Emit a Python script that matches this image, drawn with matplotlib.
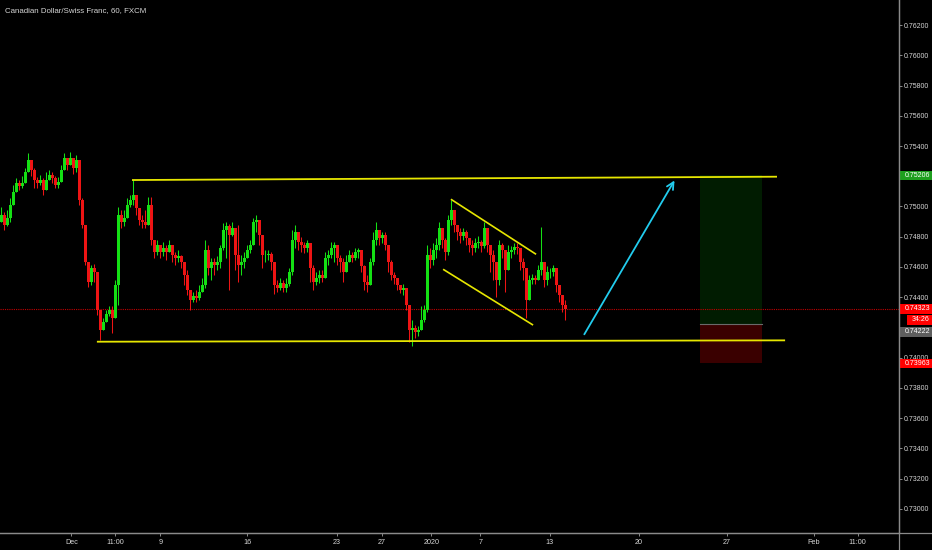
import matplotlib
matplotlib.use('Agg')
import numpy as np
from matplotlib import pyplot as plt
from matplotlib.patches import Rectangle
from matplotlib.lines import Line2D
from matplotlib.transforms import blended_transform_factory

plt.rcParams['font.family'] = ['Liberation Sans', 'DejaVu Sans']

TITLE = 'Canadian Dollar/Swiss Franc, 60, FXCM'

# hourly bars (compressed)
closes = [
    0.74944, 0.74877, 0.74924, 0.75010, 0.75096, 0.75155, 0.75135, 0.75155, 0.75228, 0.75307,
    0.75241, 0.75175, 0.75155, 0.75175, 0.75109, 0.75175, 0.75208, 0.75188, 0.75142, 0.75162,
    0.75241, 0.75320, 0.75274, 0.75320, 0.75254, 0.75307, 0.75043, 0.74877, 0.74633, 0.74501,
    0.74593, 0.74567, 0.74315, 0.74183, 0.74236, 0.74289, 0.74315, 0.74263, 0.74481, 0.74944,
    0.74897, 0.74924, 0.75010, 0.75043, 0.75076, 0.74990, 0.74910, 0.74897, 0.74877, 0.75010,
    0.74778, 0.74699, 0.74745, 0.74699, 0.74725, 0.74699, 0.74745, 0.74679, 0.74659, 0.74672,
    0.74633, 0.74547, 0.74448, 0.74382, 0.74408, 0.74395, 0.74434, 0.74481, 0.74712, 0.74593,
    0.74633, 0.74613, 0.74633, 0.74725, 0.74844, 0.74871, 0.74811, 0.74858, 0.74679, 0.74613,
    0.74633, 0.74659, 0.74712, 0.74745, 0.74897, 0.74910, 0.74811, 0.74679, 0.74679, 0.74686,
    0.74633, 0.74481, 0.74461, 0.74494, 0.74461, 0.74487, 0.74567, 0.74778, 0.74831, 0.74765,
    0.74745, 0.74725, 0.74758, 0.74593, 0.74501, 0.74527, 0.74547, 0.74527, 0.74659, 0.74679,
    0.74725, 0.74745, 0.74659, 0.74633, 0.74567, 0.74633, 0.74679, 0.74659, 0.74699, 0.74712,
    0.74606, 0.74501, 0.74481, 0.74633, 0.74778, 0.74844, 0.74791, 0.74811, 0.74745, 0.74633,
    0.74547, 0.74527, 0.74481, 0.74448, 0.74461, 0.74348, 0.74183, 0.74196, 0.74170, 0.74183,
    0.74249, 0.74315, 0.74679, 0.74646, 0.74712, 0.74745, 0.74858, 0.74778, 0.74699, 0.74910,
    0.74977, 0.74877, 0.74831, 0.74805, 0.74831, 0.74791, 0.74745, 0.74725, 0.74758, 0.74765,
    0.74739, 0.74858, 0.74745, 0.74679, 0.74633, 0.74514, 0.74745, 0.74712, 0.74580, 0.74699,
    0.74712, 0.74732, 0.74725, 0.74633, 0.74593, 0.74382, 0.74514, 0.74527, 0.74514, 0.74580,
    0.74633, 0.74514, 0.74567, 0.74567, 0.74593, 0.74481, 0.74415, 0.74348, 0.74323,
]
highs = [
    0.74996, 0.74963, 0.74977, 0.75056, 0.75142, 0.75188, 0.75175, 0.75201, 0.75254, 0.75353,
    0.75307, 0.75254, 0.75195, 0.75208, 0.75188, 0.75228, 0.75241, 0.75228, 0.75201, 0.75195,
    0.75274, 0.75353, 0.75307, 0.75360, 0.75307, 0.75340, 0.75254, 0.75056, 0.74877, 0.74633,
    0.74613, 0.74620, 0.74567, 0.74302, 0.74263, 0.74315, 0.74342, 0.74342, 0.74514, 0.74996,
    0.74977, 0.74977, 0.75056, 0.75076, 0.75175, 0.75056, 0.74963, 0.74944, 0.74977, 0.75063,
    0.75063, 0.74765, 0.74778, 0.74745, 0.74765, 0.74745, 0.74778, 0.74732, 0.74699, 0.74712,
    0.74679, 0.74633, 0.74580, 0.74448, 0.74434, 0.74448, 0.74481, 0.74527, 0.74778, 0.74745,
    0.74659, 0.74659, 0.74672, 0.74745, 0.74891, 0.74897, 0.74884, 0.74897, 0.74811, 0.74877,
    0.74679, 0.74699, 0.74745, 0.74778, 0.74924, 0.74944, 0.74877, 0.74778, 0.74712, 0.74712,
    0.74699, 0.74593, 0.74514, 0.74527, 0.74514, 0.74527, 0.74593, 0.74844, 0.74877, 0.74811,
    0.74798, 0.74765, 0.74778, 0.74725, 0.74613, 0.74567, 0.74580, 0.74580, 0.74699, 0.74712,
    0.74765, 0.74765, 0.74712, 0.74679, 0.74659, 0.74679, 0.74712, 0.74699, 0.74725, 0.74725,
    0.74699, 0.74613, 0.74547, 0.74659, 0.74831, 0.74897, 0.74844, 0.74831, 0.74831, 0.74712,
    0.74646, 0.74567, 0.74527, 0.74481, 0.74487, 0.74448, 0.74348, 0.74249, 0.74216, 0.74210,
    0.74342, 0.74348, 0.74745, 0.74725, 0.74758, 0.74791, 0.74897, 0.74844, 0.74791, 0.74944,
    0.75043, 0.74963, 0.74877, 0.74858, 0.74858, 0.74844, 0.74791, 0.74778, 0.74791, 0.74805,
    0.74778, 0.74897, 0.74831, 0.74745, 0.74712, 0.74633, 0.74778, 0.74758, 0.74679, 0.74745,
    0.74739, 0.74758, 0.74758, 0.74679, 0.74659, 0.74514, 0.74547, 0.74553, 0.74547, 0.74613,
    0.74864, 0.74633, 0.74606, 0.74593, 0.74613, 0.74580, 0.74481, 0.74395, 0.74382,
]
lows = [
    0.74897, 0.74844, 0.74871, 0.74897, 0.75043, 0.75109, 0.75109, 0.75122, 0.75175, 0.75228,
    0.75201, 0.75122, 0.75122, 0.75142, 0.75076, 0.75135, 0.75175, 0.75155, 0.75122, 0.75122,
    0.75188, 0.75254, 0.75241, 0.75274, 0.75215, 0.75228, 0.75010, 0.74858, 0.74613, 0.74467,
    0.74481, 0.74501, 0.74282, 0.74117, 0.74183, 0.74236, 0.74276, 0.74163, 0.74315, 0.74348,
    0.74858, 0.74871, 0.74924, 0.74996, 0.75010, 0.74944, 0.74877, 0.74858, 0.74858, 0.74963,
    0.74745, 0.74659, 0.74679, 0.74659, 0.74672, 0.74646, 0.74699, 0.74633, 0.74613, 0.74633,
    0.74593, 0.74481, 0.74415, 0.74315, 0.74368, 0.74368, 0.74382, 0.74434, 0.74461, 0.74547,
    0.74514, 0.74547, 0.74580, 0.74593, 0.74712, 0.74659, 0.74448, 0.74805, 0.74580, 0.74501,
    0.74547, 0.74593, 0.74672, 0.74692, 0.74778, 0.74831, 0.74745, 0.74593, 0.74633, 0.74646,
    0.74580, 0.74421, 0.74434, 0.74448, 0.74434, 0.74434, 0.74474, 0.74547, 0.74725, 0.74712,
    0.74699, 0.74692, 0.74699, 0.74501, 0.74448, 0.74481, 0.74494, 0.74501, 0.74547, 0.74613,
    0.74659, 0.74633, 0.74613, 0.74567, 0.74501, 0.74580, 0.74633, 0.74633, 0.74646, 0.74659,
    0.74567, 0.74448, 0.74434, 0.74501, 0.74613, 0.74745, 0.74745, 0.74758, 0.74712, 0.74567,
    0.74514, 0.74487, 0.74448, 0.74428, 0.74415, 0.74315, 0.74104, 0.74077, 0.74130, 0.74143,
    0.74183, 0.74236, 0.74302, 0.74593, 0.74613, 0.74659, 0.74712, 0.74725, 0.74646, 0.74679,
    0.74877, 0.74831, 0.74778, 0.74758, 0.74778, 0.74745, 0.74699, 0.74679, 0.74699, 0.74725,
    0.74699, 0.74725, 0.74699, 0.74567, 0.74514, 0.74401, 0.74481, 0.74659, 0.74434, 0.74633,
    0.74659, 0.74686, 0.74686, 0.74580, 0.74514, 0.74263, 0.74382, 0.74487, 0.74487, 0.74514,
    0.74547, 0.74467, 0.74481, 0.74527, 0.74540, 0.74434, 0.74368, 0.74302, 0.74249,
]
first_open = 0.74900

# time axis (bar index where each label sits)
date_ticks = [23.3, 37.8, 52.9, 82.0, 111.8, 126.7, 143.3, 159.6, 182.8, 212.4, 241.8, 270.7, 285.4]
date_labels = ['Dec', '11:00', '9', '16', '23', '27', '2020', '7', '13', '20', '27', 'Feb', '11:00']

price_ticks = np.arange(0.730, 0.7625, 0.002)

last_price = 0.74323
countdown = '34:26'
entry = 0.74222
target = 0.75206
stop = 0.73963

# drawings: (bar index, price)
range_top = [(43.5, 0.75175), (258.5, 0.75197)]
range_bottom = [(31.8, 0.74106), (261.2, 0.74115)]
channel_top = [(149.8, 0.75048), (178.2, 0.74684)]
channel_bottom = [(147.2, 0.74585), (177.2, 0.74216)]
arrow_pts = [(193.8, 0.74139), (224.8, 0.75188)]
position_span = (232.8, 253.5)

UP = '#14e014'
DOWN = '#ee1414'
YELLOW = '#e6e600'
TXT = '#d6d6d6'
PX = 0.0000661  # price per pixel on this scale

fig = plt.figure(figsize=(9.32, 5.5), dpi=100, facecolor='black')
ax = fig.add_axes([0, 17.5 / 550, 898.8 / 932, 532.5 / 550])
ax.set_facecolor('black')

opens = [first_open] + closes[:-1]
x = np.arange(len(closes))
cols = [UP if c >= o else DOWN for o, c in zip(opens, closes)]
hi = [max(h, o, c) for h, o, c in zip(highs, opens, closes)]
lo = [min(l, o, c) for l, o, c in zip(lows, opens, closes)]
ax.vlines(x, lo, hi, colors=cols, lw=0.75, zorder=3)
ax.bar(x, [abs(c - o) for o, c in zip(opens, closes)],
       bottom=[min(o, c) for o, c in zip(opens, closes)],
       width=0.85, color=cols, lw=0, zorder=3)

# long position tool
x0, x1 = position_span
ax.add_patch(Rectangle((x0, entry), x1 - x0, target - entry, fc='#011c01', ec='none', zorder=1))
ax.add_patch(Rectangle((x0, stop), x1 - x0, entry - stop, fc='#3a0000', ec='none', zorder=1))
ax.plot([x0, x1], [entry, entry], color='#6a6a6a', lw=0.8, zorder=2)

# current price line
ax.axhline(last_price, color='#c00000', lw=0.8, ls=(0, (1, 1)), zorder=2)

for seg, lw in [(range_top, 1.3), (range_bottom, 1.3), (channel_top, 1.2), (channel_bottom, 1.2)]:
    (a, pa), (b, pb) = seg
    ax.plot([a, b], [pa, pb], color=YELLOW, lw=lw, solid_capstyle='butt', zorder=4)

ax.annotate('', xy=arrow_pts[1], xytext=arrow_pts[0],
            arrowprops=dict(arrowstyle='->,head_length=0.5,head_width=0.25',
                            color='#22ccee', lw=1.3), zorder=4)

ax.set_xlim(-0.5, 299.1)
ax.set_ylim(0.728446, 0.763653)

for s in ['left', 'top']:
    ax.spines[s].set_visible(False)
for s in ['right', 'bottom']:
    ax.spines[s].set_color('#8a8a8a')
    ax.spines[s].set_linewidth(0.9)

# tick labels sitting under the target / entry boxes are hidden, as on the chart
hidden = [round(target, 3), round(entry, 3)]
ax.yaxis.tick_right()
ax.set_yticks(price_ticks)
ax.set_yticklabels(['' if round(p, 3) in hidden else '%.5f' % p for p in price_ticks])
ax.tick_params(axis='y', colors='#8a8a8a', labelcolor=TXT, labelsize=5, length=2.2, width=0.7, pad=1.5)
ax.set_xticks(date_ticks)
ax.set_xticklabels(date_labels)
ax.tick_params(axis='x', colors='#8a8a8a', labelcolor=TXT, labelsize=5.2, length=2.2, width=0.7, pad=2.8)

# price scale labels (stacked so they do not overlap, like the platform does)
tr = blended_transform_factory(ax.transAxes, ax.transData)
h = 9.5 * PX
labels = [
    (target, '#1e9e1e', '%.5f' % target, 1.0),
    (last_price, '#ff0000', '%.5f' % last_price, 1.0),
    (last_price - 11 * PX, '#ff0000', countdown, 1.0093),
    (last_price - 23 * PX, '#5e5e5e', '%.5f' % entry, 1.0),
    (stop, '#ff0000', '%.5f' % stop, 1.0),
]
for p, fc, txt, xs in labels:
    ax.add_patch(Rectangle((xs, p - h / 2), 1.04 - xs, h, transform=tr, fc=fc, ec='none',
                           clip_on=False, zorder=6))
    tx = 1.0 + 5.5 / 898.8 if xs == 1.0 else 1.0 + 12.5 / 898.8
    ax.text(tx, p, txt, transform=tr, color='white', fontsize=5, va='center', ha='left',
            clip_on=False, zorder=7)

fig.add_artist(Line2D([898.8 / 932] * 2, [0, 1], color='#8a8a8a', lw=0.9))
fig.add_artist(Line2D([0, 1], [17.5 / 550] * 2, color='#8a8a8a', lw=0.9))

fig.text(5 / 932, 1 - 11 / 550, TITLE, color=TXT, fontsize=5.7, va='center', ha='left')

plt.savefig('out.png', dpi=100, facecolor='black')
